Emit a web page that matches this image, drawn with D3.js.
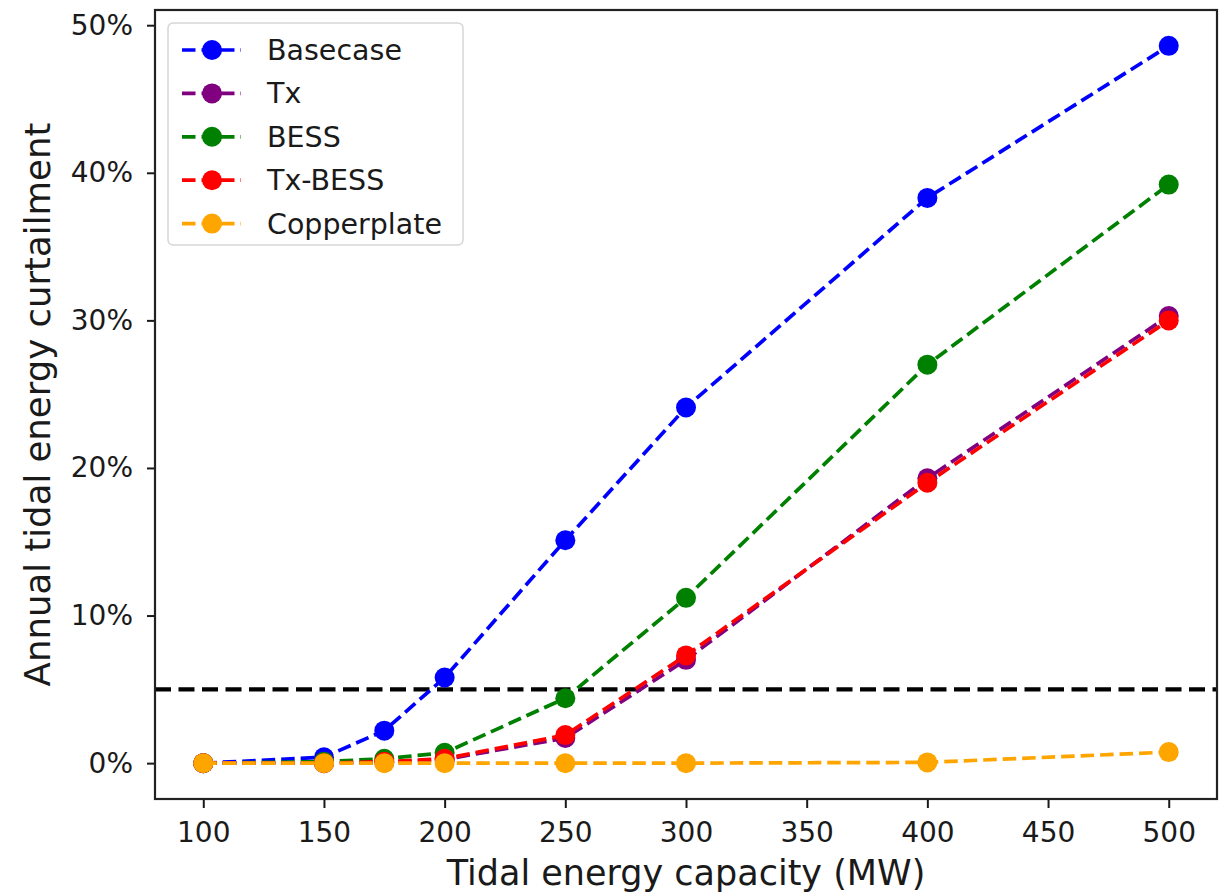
<!DOCTYPE html>
<html>
<head>
<meta charset="utf-8">
<script src="https://cdn.jsdelivr.net/npm/d3@7"></script>
<style>
  body { margin: 0; background: #fff; }
  svg text { font-family: "DejaVu Sans", sans-serif; fill: #1a1a1a; }
</style>
</head>
<body>
<svg width="1225" height="895"></svg>
<script>
// capacities (MW) and curtailment (%) per scenario
const capacity = [100, 150, 175, 200, 250, 300, 400, 500];
const basecase = [0.0, 0.4, 2.2, 5.8, 15.1, 24.1, 38.3, 48.6];
const tx = [0.0, 0.0, 0.05, 0.25, 1.7, 7.0, 19.3, 30.3];
const bess = [0.0, 0.1, 0.3, 0.7, 4.4, 11.2, 27.0, 39.2];
const txBess = [0.0, 0.0, 0.1, 0.3, 1.9, 7.3, 19.0, 30.0];
const copperplate = [0.0, 0.0, 0.0, 0.0, 0.0, 0.0, 0.05, 0.75];
const threshold = 5;

const seriesNames = ['Basecase', 'Tx', 'BESS', 'Tx-BESS', 'Copperplate'];
const seriesValues = [basecase, tx, bess, txBess, copperplate];
const seriesColors = ['#0000ff', '#800080', '#008000', '#ff0000', '#ffa500'];

const xTicks = [100, 150, 200, 250, 300, 350, 400, 450, 500];
const yTicks = [0, 10, 20, 30, 40, 50];

const svg = d3.select("svg");
const margin = { left: 155, right: 1217, top: 10, bottom: 799 };

const x = d3.scaleLinear().domain([80, 520]).range([margin.left, margin.right]);
const y = d3.scaleLinear().domain([-2.43, 51.03]).range([margin.bottom, margin.top]);

// 5% reference line
svg.append("line")
    .attr("x1", margin.left).attr("x2", margin.right)
    .attr("y1", y(threshold)).attr("y2", y(threshold))
    .attr("stroke", "#000").attr("stroke-width", 4.2)
    .attr("stroke-dasharray", "16,7.5");

const line = d3.line()
    .x((d, i) => x(capacity[i]))
    .y(d => y(d));

seriesValues.forEach((vals, k) => {
    const g = svg.append("g");
    g.append("path")
        .attr("d", line(vals))
        .attr("fill", "none")
        .attr("stroke", seriesColors[k])
        .attr("stroke-width", 3.7)
        .attr("stroke-dasharray", "13.5,6");
    g.selectAll("circle").data(vals).enter().append("circle")
        .attr("cx", (d, i) => x(capacity[i]))
        .attr("cy", d => y(d))
        .attr("r", 10)
        .attr("fill", seriesColors[k]);
});

// axes
const xAxis = d3.axisBottom(x).tickValues(xTicks).tickSize(9).tickPadding(14);
const yAxis = d3.axisLeft(y).tickValues(yTicks).tickSize(8).tickPadding(14)
    .tickFormat(d => d + "%");

const gx = svg.append("g").attr("transform", `translate(0,${margin.bottom})`).call(xAxis);
const gy = svg.append("g").attr("transform", `translate(${margin.left},0)`).call(yAxis);
[gx, gy].forEach(g => {
    g.select(".domain").remove();
    g.selectAll(".tick line").attr("stroke", "#1a1a1a").attr("stroke-width", 2);
    g.selectAll(".tick text").attr("font-size", 28).attr("fill", "#1a1a1a");
});

// frame
svg.append("rect")
    .attr("x", margin.left).attr("y", margin.top)
    .attr("width", margin.right - margin.left)
    .attr("height", margin.bottom - margin.top)
    .attr("fill", "none").attr("stroke", "#222").attr("stroke-width", 2.2);

svg.append("text")
    .attr("x", (margin.left + margin.right) / 2)
    .attr("y", 885)
    .attr("text-anchor", "middle")
    .attr("font-size", 35)
    .text("Tidal energy capacity (MW)");

svg.append("text")
    .attr("transform", `translate(50,${(margin.top + margin.bottom) / 2}) rotate(-90)`)
    .attr("text-anchor", "middle")
    .attr("font-size", 35.5)
    .text("Annual tidal energy curtailment");

// legend
const legend = svg.append("g");
legend.append("rect")
    .attr("x", 168).attr("y", 23).attr("width", 295).attr("height", 222)
    .attr("rx", 5)
    .attr("fill", "#fff").attr("fill-opacity", 0.8)
    .attr("stroke", "#d6d6d6").attr("stroke-width", 1.5);

const items = legend.selectAll(".item").data(seriesNames).enter().append("g")
    .attr("transform", (d, i) => `translate(0,${50 + i * 43.4})`);
items.append("line")
    .attr("x1", 182).attr("x2", 241)
    .attr("stroke", (d, i) => seriesColors[i])
    .attr("stroke-width", 3.7)
    .attr("stroke-dasharray", "13.5,6");
items.append("circle")
    .attr("cx", 212).attr("r", 10)
    .attr("fill", (d, i) => seriesColors[i]);
items.append("text")
    .attr("x", 267).attr("y", 10)
    .attr("font-size", 28.5)
    .text(d => d);
</script>
</body>
</html>
